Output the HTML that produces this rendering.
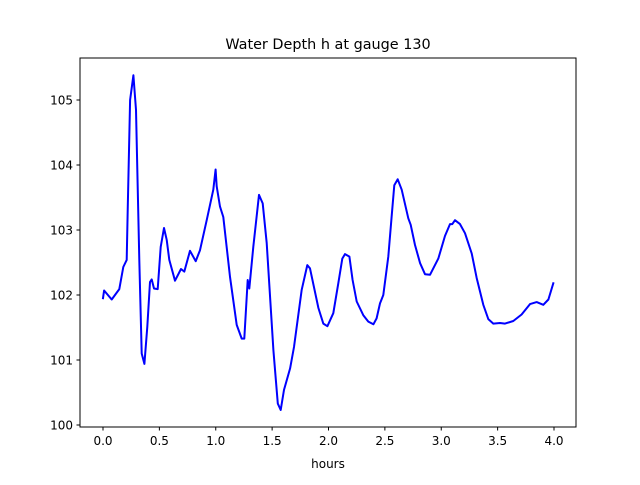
<!DOCTYPE html>
<html><head><meta charset="utf-8"><style>
body{margin:0;background:#fff;font-family:"Liberation Sans","DejaVu Sans",sans-serif}
text{font-family:"DejaVu Sans","Liberation Sans",sans-serif}
</style></head><body>
<svg id="chart" width="640" height="480" xmlns="http://www.w3.org/2000/svg">
<rect width="640" height="480" fill="#fff"/>
<text x="328" y="49" font-size="14.4" text-anchor="middle">Water Depth h at gauge 130</text>
<text x="328" y="468" font-size="12" text-anchor="middle">hours</text>
<g id="ticks"></g>
<polyline id="line" fill="none" stroke="#0000ff" stroke-width="2" stroke-linejoin="round" stroke-linecap="square"/>
<rect x="80" y="58" width="496" height="369" fill="none" stroke="#000" stroke-width="1"/>
</svg>
<script>
const times=[0,0.01,0.077,0.145,0.18,0.21,0.219,0.24,0.27,0.293,0.322,0.343,0.367,0.393,0.417,0.432,0.452,0.485,0.512,0.541,0.565,0.588,0.639,0.692,0.721,0.772,0.822,0.86,0.92,0.978,0.999,1.008,1.038,1.067,1.126,1.186,1.23,1.253,1.283,1.298,1.333,1.384,1.416,1.452,1.511,1.55,1.576,1.605,1.659,1.694,1.762,1.812,1.836,1.91,1.954,1.99,2.043,2.087,2.122,2.146,2.185,2.214,2.25,2.309,2.353,2.398,2.427,2.457,2.486,2.53,2.56,2.584,2.614,2.649,2.708,2.729,2.767,2.812,2.856,2.9,2.974,3.033,3.078,3.098,3.122,3.166,3.211,3.27,3.314,3.373,3.417,3.462,3.521,3.565,3.639,3.713,3.787,3.847,3.905,3.95,3.994];
const depths=[101.95,102.07,101.93,102.09,102.43,102.54,103.3,105.0,105.38,104.85,102.54,101.1,100.94,101.51,102.2,102.24,102.1,102.09,102.74,103.03,102.85,102.54,102.22,102.4,102.36,102.68,102.52,102.69,103.15,103.62,103.93,103.67,103.36,103.2,102.28,101.54,101.33,101.33,102.23,102.1,102.74,103.54,103.41,102.8,101.15,100.33,100.23,100.54,100.87,101.2,102.08,102.46,102.41,101.8,101.56,101.52,101.72,102.18,102.56,102.63,102.59,102.23,101.9,101.69,101.59,101.55,101.64,101.87,102.0,102.59,103.2,103.69,103.78,103.62,103.18,103.08,102.77,102.49,102.32,102.31,102.56,102.91,103.09,103.09,103.15,103.09,102.95,102.64,102.26,101.85,101.63,101.56,101.57,101.56,101.6,101.7,101.86,101.89,101.85,101.93,102.18];
const xTicks=[0,0.5,1,1.5,2,2.5,3,3.5,4];
const xTickLabels=["0.0","0.5","1.0","1.5","2.0","2.5","3.0","3.5","4.0"];
const yTicks=[100,101,102,103,104,105];
const yTickLabels=["100","101","102","103","104","105"];
const X=t=>103+t*112.75;
const Y=h=>425-(h-100)*65;
const ns="http://www.w3.org/2000/svg";
const g=document.getElementById('ticks');
function mk(tag,a){const e=document.createElementNS(ns,tag);for(const k in a)e.setAttribute(k,a[k]);g.appendChild(e);return e;}
xTicks.forEach((t,i)=>{
 const l=mk('line',{x1:X(t),x2:X(t),y1:427,y2:430.5,stroke:'#000'});
 
 
 const tx=mk('text',{x:X(t),y:445,'font-size':12,'text-anchor':'middle'});
 tx.textContent=xTickLabels[i];
 
 
});
yTicks.forEach((v,i)=>{
 const l=mk('line',{x1:76.5,x2:80,y1:Y(v),y2:Y(v),stroke:'#000'});
 
 
 const tx=mk('text',{x:73,y:Y(v)+4.5,'font-size':12,'text-anchor':'end'});
 tx.textContent=yTickLabels[i];
 
 
});
document.getElementById('line').setAttribute('points',times.map((t,i)=>X(t).toFixed(1)+','+Y(depths[i]).toFixed(1)).join(' '));
</script>
</body></html>
